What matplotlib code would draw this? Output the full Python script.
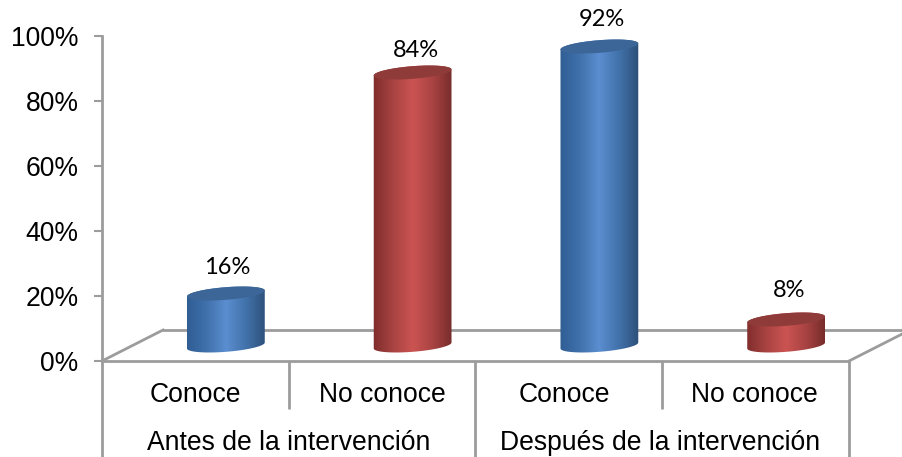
import numpy as np
import matplotlib
matplotlib.use('Agg')
import matplotlib.pyplot as plt
from matplotlib.colors import LinearSegmentedColormap
from matplotlib.patches import Polygon
from matplotlib.ticker import PercentFormatter

# data
categories = ['Conoce', 'No conoce', 'Conoce', 'No conoce']
groups = ['Antes de la intervención', 'Después de la intervención']
values = [16, 84, 92, 8]
yticks = [0, 20, 40, 60, 80, 100]

W, H = 902, 457
GREY = '#9c9c9c'
FS = 19.1
LW = 2
plt.rcParams['font.family'] = ['Liberation Sans', 'DejaVu Sans']

# px per data unit (747 px for 4 categories, 325 px for 100 %)
SX = 747 / 4
SY = 325 / 100
DEPTH_X = 61 / SX
DEPTH_Y = 31 / SY

# small hand nudges for labels, in px
label_nudge = [(1, 26), (3, 22), (3, 27), (3, 29)]
cat_nudge = [0, 0, -5, -1]
group_nudge = [0, -2]

blue = LinearSegmentedColormap.from_list('b', ['#2f5c93', '#3f70aa', '#5b8ed0', '#4272ab', '#2c5078'])
red = LinearSegmentedColormap.from_list('r', ['#7e2d2c', '#a84342', '#cb5452', '#a84342', '#742b2a'])
colormaps = [blue, red, blue, red]
tops = ['#3c6697', '#8f3b39', '#3c6697', '#8f3b39']


def elipse(cx, cy, t):
    # tilted ellipse, sizes in px, result in data units
    a, b, ang = 39, 6.3, np.radians(4.5)
    x = a * np.cos(t) * np.cos(ang) - b * np.sin(t) * np.sin(ang)
    y = a * np.cos(t) * np.sin(ang) + b * np.sin(t) * np.cos(ang)
    return np.column_stack([cx + x / SX, cy + y / SY])


def cilindro(ax, cx, base, value, cmap, top_color):
    y0 = base
    y1 = base + value
    lower = elipse(cx, y0, np.linspace(np.pi, 2 * np.pi, 60))
    upper = elipse(cx, y1, np.linspace(0, np.pi, 60))
    body = Polygon(np.vstack([lower, upper]), closed=True, transform=ax.transData,
                   facecolor='none', edgecolor='none')
    ax.add_patch(body)
    x_edge = 40 / SX
    grad = np.linspace(0, 1, 256).reshape(1, -1)
    im = ax.imshow(grad, cmap=cmap, aspect='auto', zorder=3,
                   extent=[cx - x_edge, cx + x_edge, y0 - 4, y1 + 4], clip_on=True)
    im.set_clip_path(body)
    tapa = elipse(cx, y1, np.linspace(0, 2 * np.pi, 120))
    ax.add_patch(Polygon(tapa, closed=True, facecolor=top_color, edgecolor='none',
                         zorder=4, clip_on=False))


fig = plt.figure(figsize=(W / 100, H / 100), dpi=100, facecolor='white')
ax = fig.add_axes([102 / W, (H - 361) / H, 747 / W, 325 / H])

# floor of the 3D box
x_right = (W - 102) / SX
back_y = DEPTH_Y
ax.plot([0, 4], [0, 0], color=GREY, lw=LW, clip_on=False, zorder=1)
ax.plot([0, DEPTH_X], [0, back_y], color=GREY, lw=LW, clip_on=False, zorder=1)
ax.plot([DEPTH_X, x_right], [back_y, back_y], color=GREY, lw=LW, clip_on=False, zorder=1)
ax.plot([4, 4 + DEPTH_X], [0, back_y], color=GREY, lw=LW, clip_on=False, zorder=1)

# two level category axis
low = -96 / SY
mid = -48 / SY
ax.vlines([0, 2, 4], low, 0, color=GREY, lw=LW, clip_on=False)
ax.vlines([1, 3], mid, 0, color=GREY, lw=LW, clip_on=False)

for i, (cat, val) in enumerate(zip(categories, values)):
    cx = i + 0.5 + DEPTH_X / 2
    cilindro(ax, cx, DEPTH_Y / 2, val, colormaps[i], tops[i])
    ax.annotate(f'{val}%', (cx, DEPTH_Y / 2 + val), xytext=label_nudge[i], textcoords='offset pixels',
                ha='center', va='center', fontsize=17, family='Lato', color='black',
                annotation_clip=False, zorder=5)
    ax.text(i + 0.5 + cat_nudge[i] / SX, -34 / SY, cat, ha='center', va='center', fontsize=FS)

for i, g in enumerate(groups):
    ax.text(2 * i + 1 + group_nudge[i] / SX, -82 / SY, g, ha='center', va='center', fontsize=FS)

ax.set_xlim(0, 4)
ax.set_ylim(0, 100)
ax.set_xticks([])
ax.set_yticks(yticks)
ax.yaxis.set_major_formatter(PercentFormatter(100, decimals=0))
ax.tick_params(axis='y', length=5.8, width=1.5, color=GREY, pad=11, labelsize=FS)
for name in ['top', 'right', 'bottom']:
    ax.spines[name].set_visible(False)
ax.spines['left'].set_color(GREY)
ax.spines['left'].set_linewidth(LW)
ax.patch.set_alpha(0)

fig.savefig('out.png', dpi=100)
